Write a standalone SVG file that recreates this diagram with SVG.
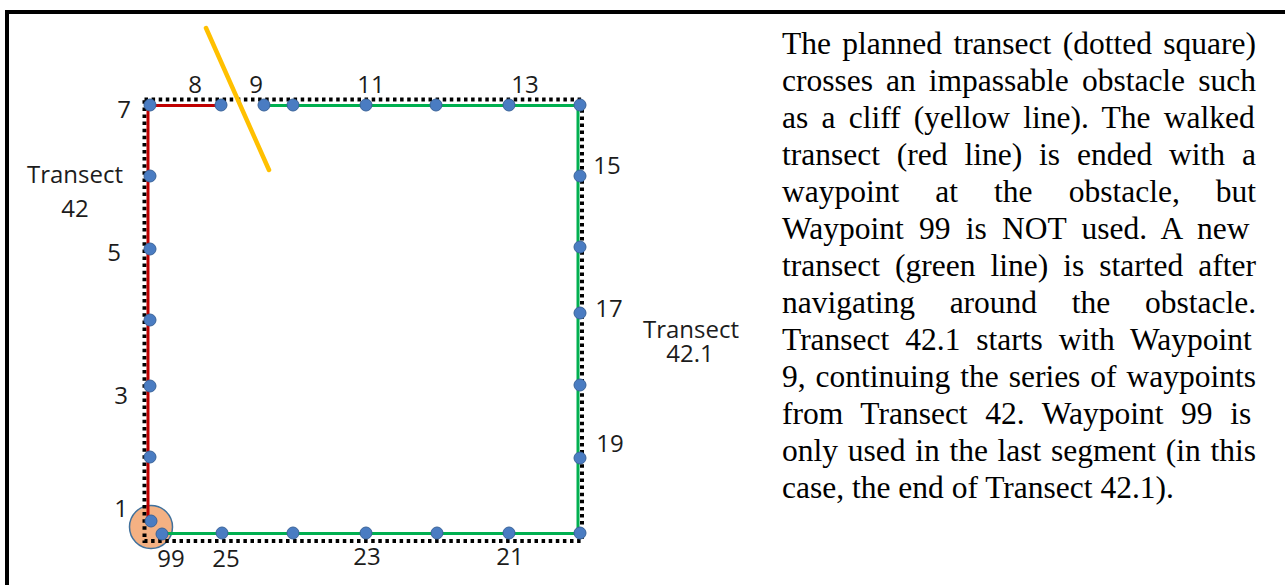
<svg xmlns="http://www.w3.org/2000/svg" width="1285" height="585" viewBox="0 0 1285 585">
  <style>
    .frame { stroke: #000; stroke-width: 4; fill: none; }
    .planned { stroke: #000; stroke-width: 4; stroke-dasharray: 3.5 3.6; fill: none; }
    .walked { stroke: #C00000; stroke-width: 3; fill: none; }
    .new { stroke: #00B050; stroke-width: 3; fill: none; }
    .cliff { stroke: #FFC000; stroke-width: 4.5; stroke-linecap: round; }
    .wp { fill: #4A7CC2; stroke: #3A6399; stroke-width: 1; }
    .lbl { font-family: "Open Sans", "Noto Sans", sans-serif; font-size: 24px; fill: #1c1c1c; text-anchor: middle; }
    .para { font-family: "Liberation Serif", "Times New Roman", serif; font-size: 31.5px; fill: #000; }
  </style>

  <!-- page frame -->
  <line class="frame" x1="5" y1="12" x2="1285" y2="12"/>
  <line class="frame" x1="7" y1="10" x2="7" y2="585"/>

  <!-- end-of-transect highlight -->
  <circle id="end-marker" cx="151" cy="527" r="21.5" fill="#F4B183" stroke="#41719C" stroke-width="1.5"/>

  <g id="connectors">
    <!-- planned transect -->
    <rect class="planned" x="144.5" y="99.5" width="437.5" height="441.5"/>
    <!-- walked transect 42 -->
    <polyline class="walked" points="148,518 148,105.5 221,105.5"/>
    <!-- new transect 42.1 -->
    <polyline class="new" points="264,105.5 578,105.5 578,533.5 163,533.5"/>
    <!-- obstacle -->
    <line id="cliff" class="cliff" x1="206" y1="28" x2="269" y2="170"/>
  </g>

  <g id="waypoints">
    <g id="wp-7"><circle class="wp" cx="150" cy="105" r="6"/><text class="lbl" x="124" y="118">7</text></g>
    <g id="wp-8"><circle class="wp" cx="221" cy="105" r="6"/><text class="lbl" x="195" y="93">8</text></g>
    <g id="wp-9"><circle class="wp" cx="264" cy="105" r="6"/><text class="lbl" x="256" y="93">9</text></g>
    <g id="wp-10"><circle class="wp" cx="293" cy="105" r="6"/></g>
    <g id="wp-11"><circle class="wp" cx="366" cy="105" r="6"/><text class="lbl" x="371" y="93">11</text></g>
    <g id="wp-12"><circle class="wp" cx="436" cy="105" r="6"/></g>
    <g id="wp-13"><circle class="wp" cx="509" cy="105" r="6"/><text class="lbl" x="525" y="93">13</text></g>
    <g id="wp-14"><circle class="wp" cx="580" cy="105" r="6"/></g>
    <g id="wp-15"><circle class="wp" cx="580" cy="176" r="6"/><text class="lbl" x="607" y="174">15</text></g>
    <g id="wp-16"><circle class="wp" cx="580" cy="247" r="6"/></g>
    <g id="wp-17"><circle class="wp" cx="580" cy="313" r="6"/><text class="lbl" x="609" y="317">17</text></g>
    <g id="wp-18"><circle class="wp" cx="580" cy="385" r="6"/></g>
    <g id="wp-19"><circle class="wp" cx="580" cy="458" r="6"/><text class="lbl" x="610" y="452">19</text></g>
    <g id="wp-20"><circle class="wp" cx="580" cy="533" r="6"/></g>
    <g id="wp-21"><circle class="wp" cx="509" cy="533" r="6"/><text class="lbl" x="510" y="565">21</text></g>
    <g id="wp-22"><circle class="wp" cx="437" cy="533" r="6"/></g>
    <g id="wp-23"><circle class="wp" cx="366" cy="533" r="6"/><text class="lbl" x="367" y="565">23</text></g>
    <g id="wp-24"><circle class="wp" cx="293" cy="533" r="6"/></g>
    <g id="wp-25"><circle class="wp" cx="222" cy="533" r="6"/><text class="lbl" x="226" y="567">25</text></g>
    <g id="wp-99"><circle class="wp" cx="162" cy="534" r="6"/><text class="lbl" x="171" y="567">99</text></g>
    <g id="wp-1"><circle class="wp" cx="151" cy="521" r="6"/><text class="lbl" x="121" y="517">1</text></g>
    <g id="wp-2"><circle class="wp" cx="150" cy="457" r="6"/></g>
    <g id="wp-3"><circle class="wp" cx="150" cy="386" r="6"/><text class="lbl" x="121" y="404">3</text></g>
    <g id="wp-4"><circle class="wp" cx="150" cy="320" r="6"/></g>
    <g id="wp-5"><circle class="wp" cx="150" cy="249" r="6"/><text class="lbl" x="114" y="261">5</text></g>
    <g id="wp-6"><circle class="wp" cx="150" cy="176" r="6"/></g>
  </g>

  <g id="transect-labels">
    <text class="lbl" x="75" y="183">Transect</text>
    <text class="lbl" x="75" y="217">42</text>
    <text class="lbl" x="691" y="338">Transect</text>
    <text class="lbl" x="690" y="362">42.1</text>
  </g>

  <!-- justified explanation paragraph -->
  <g id="caption" class="para">
    <text x="782" y="54" word-spacing="3.47">The planned transect (dotted square)</text>
    <text x="782" y="91" word-spacing="5.2">crosses an impassable obstacle such</text>
    <text x="782" y="128" word-spacing="5.37">as a cliff (yellow line). The walked</text>
    <text x="782" y="165" word-spacing="9.02">transect (red line) is ended with a</text>
    <text x="782" y="202" word-spacing="28.2">waypoint at the obstacle, but</text>
    <text x="782" y="239" word-spacing="7.4">Waypoint 99 is NOT used. A new</text>
    <text x="782" y="276" word-spacing="7.16">transect (green line) is started after</text>
    <text x="782" y="313" word-spacing="26.8">navigating around the obstacle.</text>
    <text x="782" y="350" word-spacing="8.05">Transect 42.1 starts with Waypoint</text>
    <text x="782" y="387" word-spacing="2.06">9, continuing the series of waypoints</text>
    <text x="782" y="424" word-spacing="9.76">from Transect 42. Waypoint 99 is</text>
    <text x="782" y="461" word-spacing="1.84">only used in the last segment (in this</text>
    <text x="782" y="498">case, the end of Transect 42.1).</text>
  </g>
</svg>
